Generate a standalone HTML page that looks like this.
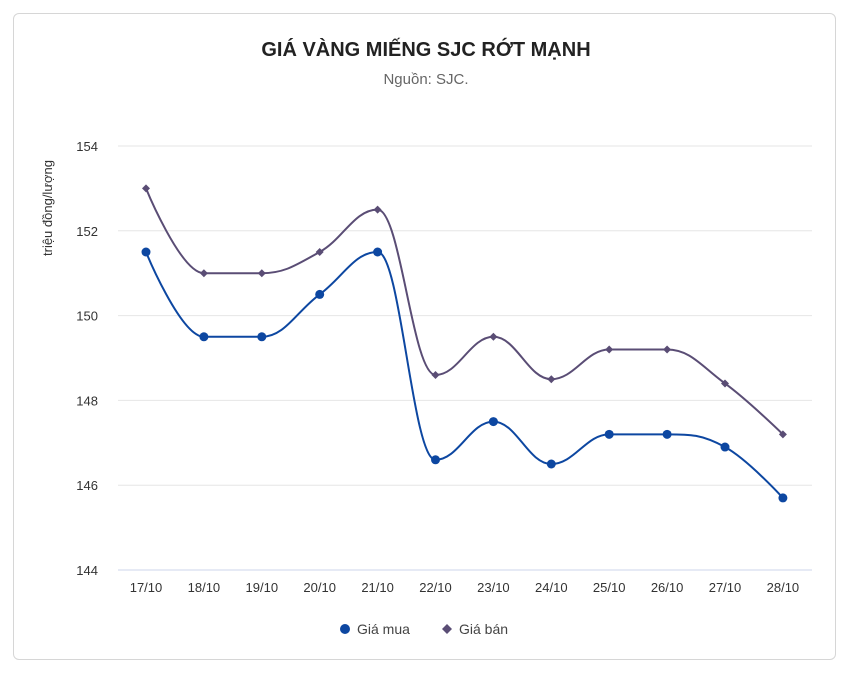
<!DOCTYPE html>
<html><head><meta charset="utf-8"><style>
html,body{margin:0;padding:0;background:#fff;width:852px;height:675px;overflow:hidden}
.card{position:absolute;left:13px;top:13px;width:823px;height:647px;border:1px solid #d6d6d6;border-radius:6px;box-sizing:border-box}
svg{position:absolute;left:0;top:0}
text{font-family:"Liberation Sans",sans-serif}
</style></head><body>
<div class="card"></div>
<svg id="s" width="852" height="675" xmlns="http://www.w3.org/2000/svg">
<text x="426" y="56" text-anchor="middle" font-size="20" font-weight="bold" fill="#222">GIÁ VÀNG MIẾNG SJC RỚT MẠNH</text>
<text x="426" y="84" text-anchor="middle" font-size="15" fill="#666">Nguồn: SJC.</text>
<text transform="translate(52,208) rotate(-90)" text-anchor="middle" font-size="13" fill="#333">triệu đồng/lượng</text>
<g id="grid"></g>
<g id="series"></g>
<g font-size="14" fill="#444">
<circle cx="345" cy="629" r="5" fill="#0d47a1"/>
<text x="357" y="634">Giá mua</text>
<path d="M447 624 L452 629 L447 634 L442 629Z" fill="#5a4d75"/>
<text x="459" y="634">Giá bán</text>
</g>
</svg>
<script>
var NS="http://www.w3.org/2000/svg",g=document.getElementById('grid'),sr=document.getElementById('series');
function el(t,a,p){var e=document.createElementNS(NS,t);for(var k in a)e.setAttribute(k,a[k]);(p||g).appendChild(e);return e;}
function Y(v){return 146+(154-v)*42.4}
function X(i){return 146+i*57.9}
for(var v=144;v<=154;v+=2){el('line',{x1:118,x2:812,y1:Y(v),y2:Y(v),stroke:v==144?'#ccd6eb':'#e6e6e6','stroke-width':1});
var t=el('text',{x:98,y:Y(v)+5,'text-anchor':'end','font-size':13,fill:'#333'});t.textContent=v;}
var labs=['17/10','18/10','19/10','20/10','21/10','22/10','23/10','24/10','25/10','26/10','27/10','28/10'];
labs.forEach(function(l,i){var t=el('text',{x:X(i),y:592,'text-anchor':'middle','font-size':13,fill:'#333'});t.textContent=l;});
function spline(d){var p=d.map(function(v,i){return [X(i),Y(v)]});var s='M'+p[0][0]+' '+p[0][1];
function cont(i){var x=p[i][0],y=p[i][1],a=p[i-1],b=p[i+1];var sm=1.5,dn=sm+1;
var lx=(sm*x+a[0])/dn,ly=(sm*y+a[1])/dn,rx=(sm*x+b[0])/dn,ry=(sm*y+b[1])/dn;
var c=((ry-ly)*(rx-x))/(rx-lx)+y-ry;ly+=c;ry+=c;
if(ly>a[1]&&ly>y){ly=Math.max(a[1],y);ry=2*y-ly;}else if(ly<a[1]&&ly<y){ly=Math.min(a[1],y);ry=2*y-ly;}
if(ry>b[1]&&ry>y){ry=Math.max(b[1],y);ly=2*y-ry;}else if(ry<b[1]&&ry<y){ry=Math.min(b[1],y);ly=2*y-ry;}
return [lx,ly,rx,ry];}
var C=[];for(var i=1;i<p.length-1;i++)C[i]=cont(i);
for(var i=1;i<p.length;i++){var c1=i-1>0?[C[i-1][2],C[i-1][3]]:p[i-1],c2=i<p.length-1?[C[i][0],C[i][1]]:p[i];
s+=' C'+c1[0]+' '+c1[1]+' '+c2[0]+' '+c2[1]+' '+p[i][0]+' '+p[i][1];}
return {s:s,p:p};}
var buy=[151.5,149.5,149.5,150.5,151.5,146.6,147.5,146.5,147.2,147.2,146.9,145.7];
var sell=[153,151,151,151.5,152.5,148.6,149.5,148.5,149.2,149.2,148.4,147.2];
var a=spline(sell);el('path',{d:a.s,fill:'none',stroke:'#5a4d75','stroke-width':2},sr);
a.p.forEach(function(q){el('path',{d:'M'+q[0]+' '+(q[1]-4)+' L'+(q[0]+4)+' '+q[1]+' L'+q[0]+' '+(q[1]+4)+' L'+(q[0]-4)+' '+q[1]+'Z',fill:'#5a4d75'},sr);});
var b=spline(buy);el('path',{d:b.s,fill:'none',stroke:'#0d47a1','stroke-width':2},sr);
b.p.forEach(function(q){el('circle',{cx:q[0],cy:q[1],r:4.5,fill:'#0d47a1'},sr);});
</script>
</body></html>
